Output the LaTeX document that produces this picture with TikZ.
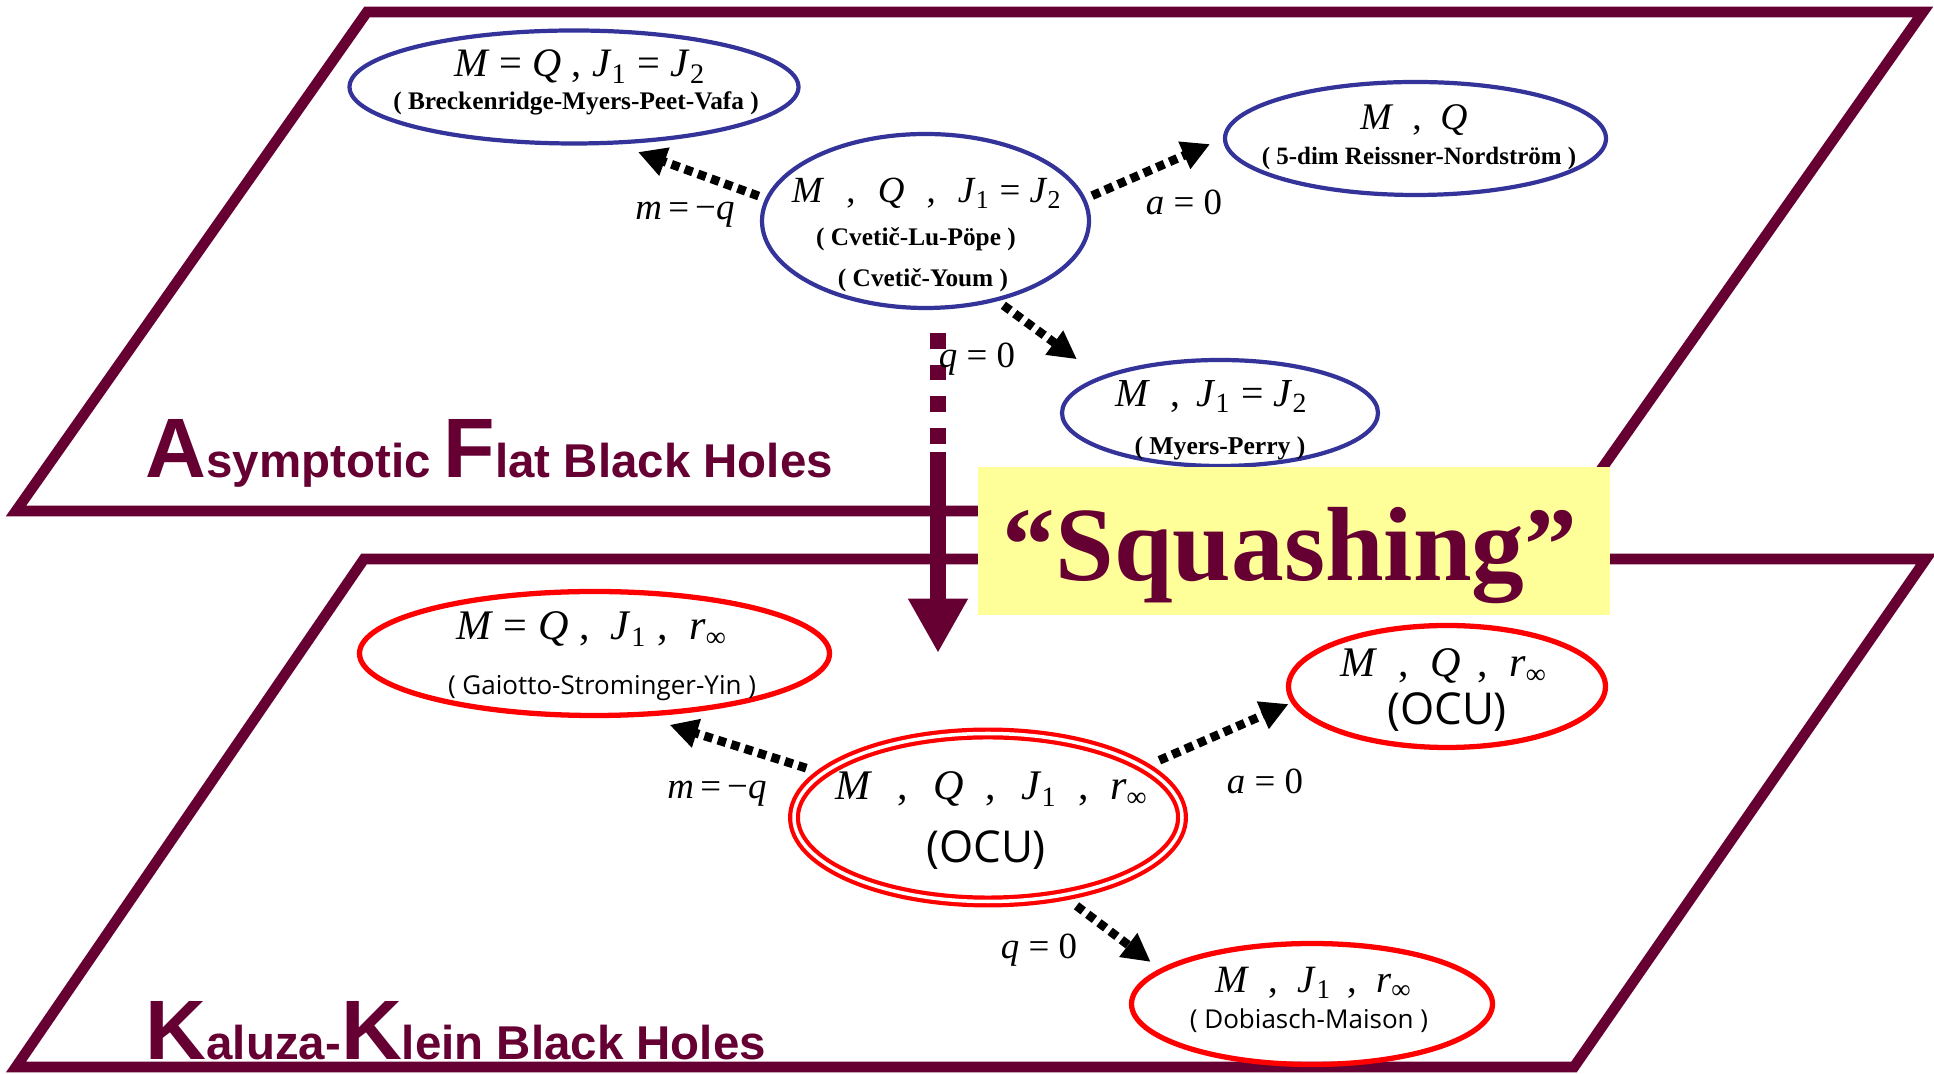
\documentclass[tikz,border=0pt]{standalone}
\usepackage{fontspec}
\setmainfont{Liberation Serif}
\newfontfamily\ocufont{Open Sans}
\newfontfamily\planefont{Liberation Sans}
\usetikzlibrary{arrows.meta,shapes.geometric}
\definecolor{planered}{RGB}{102,0,51}
\definecolor{ovalblue}{RGB}{51,51,153}
\definecolor{squashyellow}{RGB}{255,255,153}

\begin{document}
\begin{tikzpicture}[
  plane/.style={draw=planered,line width=3pt,line join=miter},
  afoval/.style={ellipse,draw=ovalblue,line width=1.2pt,inner sep=0pt},
  kkoval/.style={ellipse,draw=red,line width=1.5pt,inner sep=0pt},
  eqtext/.style={anchor=base,inner sep=0pt},
  limitarrow/.style={line width=2.5pt,dash pattern=on 2.4pt off 1.6pt,-{Triangle[length=8pt,width=8pt]}},
]
\useasboundingbox (0,0) rectangle (19.34,10.74);

% the two planes
\draw[plane] (3.67,10.62) -- (19.23,10.62) -- (15.72,5.63) -- (0.16,5.63) -- cycle;
\draw[plane] (3.64,5.15) -- (19.26,5.15) -- (15.74,0.07) -- (0.16,0.07) -- cycle;
\node[planered,anchor=base west,inner sep=0pt,font=\planefont\bfseries\fontsize{13.5}{15}\selectfont] (af-title) at (1.45,5.96)
  {{\fontsize{24}{26}\selectfont A}symptotic {\fontsize{24}{26}\selectfont F}lat Black Holes};
\node[planered,anchor=base west,inner sep=0pt,font=\planefont\bfseries\fontsize{13.5}{15}\selectfont] (kk-title) at (1.45,0.14)
  {{\fontsize{24}{26}\selectfont K}aluza-{\fontsize{24}{26}\selectfont K}lein Black Holes};

% asymptotically flat solutions
\node[afoval,minimum width=4.49cm,minimum height=1.13cm] (bmpv) at (5.74,9.87) {};
\node[afoval,minimum width=3.27cm,minimum height=1.74cm] (clp) at (9.255,8.53) {};
\node[afoval,minimum width=3.81cm,minimum height=1.13cm] (rn) at (14.155,9.355) {};
\node[afoval,minimum width=3.16cm,minimum height=1.06cm] (mp) at (12.20,6.61) {};
\node[eqtext,font=\fontsize{11.5}{13}\selectfont] (bmpv-eq) at (5.80,9.97)
  {\textit{M} = \textit{Q} ,\ \textit{J}\textsubscript{1} = \textit{J}\textsubscript{2}};
\node[eqtext,font=\bfseries\fontsize{7.2}{9}\selectfont] (bmpv-ref) at (5.76,9.64) {( Breckenridge-Myers-Peet-Vafa )};
\node[eqtext,font=\fontsize{10.5}{12}\selectfont] (clp-eq) at (9.27,8.71)
  {\textit{M}\hspace{0.6em},\hspace{0.6em}\textit{Q}\hspace{0.6em},\hspace{0.6em}\textit{J}\textsubscript{1} = \textit{J}\textsubscript{2}};
\node[eqtext,font=\bfseries\fontsize{7.2}{9}\selectfont] (clp-ref1) at (9.16,8.28) {( Cvetič-Lu-Pöpe )};
\node[eqtext,font=\bfseries\fontsize{7.2}{9}\selectfont] (clp-ref2) at (9.23,7.87) {( Cvetič-Youm )};
\node[eqtext,font=\fontsize{10.7}{12}\selectfont] (rn-eq) at (14.14,9.44) {\textit{M}\hspace{0.5em},\hspace{0.5em}\textit{Q}};
\node[eqtext,font=\bfseries\fontsize{7.1}{9}\selectfont] (rn-ref) at (14.19,9.09) {( 5-dim Reissner-Nordström )};
\node[eqtext,font=\fontsize{11.3}{13}\selectfont] (mp-eq) at (12.12,6.67)
  {\textit{M}\hspace{0.5em},\hspace{0.4em}\textit{J}\textsubscript{1} = \textit{J}\textsubscript{2}};
\node[eqtext,font=\bfseries\fontsize{7.3}{9}\selectfont] (mp-ref) at (12.20,6.19) {( Myers-Perry )};

\draw[limitarrow,shorten <=2pt,shorten >=0.22cm] (clp.172) -- (bmpv.-53);
\draw[limitarrow,shorten <=2pt,shorten >=0.14cm] (clp.8) -- (rn.west);
\draw[limitarrow,shorten <=2pt,shorten >=0.29cm] (clp.-48) -- (mp.163);
\node[eqtext,font=\fontsize{10.5}{12}\selectfont] (af-mq) at (6.85,8.54) {\textit{m}\,=\,−\textit{q}};
\node[eqtext,font=\fontsize{10.5}{12}\selectfont] (af-a) at (11.84,8.59) {\textit{a} = 0};

% Kaluza-Klein solutions
\node[kkoval,minimum width=4.70cm,minimum height=1.24cm] (gsy) at (5.945,4.205) {};
\node[kkoval,double,line width=1.2pt,double distance=1pt,minimum width=3.88cm,minimum height=1.68cm] (ocu) at (9.88,2.565) {};
\node[kkoval,minimum width=3.17cm,minimum height=1.22cm] (ocur) at (14.47,3.875) {};
\node[kkoval,minimum width=3.61cm,minimum height=1.21cm] (dm) at (13.12,0.70) {};
\node[eqtext,font=\fontsize{12}{14}\selectfont] (gsy-eq) at (5.92,4.34)
  {\textit{M} = \textit{Q} ,\ \ \textit{J}\textsubscript{1} ,\ \ \textit{r}\textsubscript{∞}};
\node[eqtext,font=\ocufont\fontsize{7.4}{9}\selectfont] (gsy-ref) at (6.02,3.79) {( Gaiotto-Strominger-Yin )};
\node[eqtext,font=\fontsize{12}{14}\selectfont] (ocu-eq) at (9.92,2.74)
  {\textit{M}\hspace{0.6em},\hspace{0.6em}\textit{Q}\hspace{0.5em},\hspace{0.6em}\textit{J}\textsubscript{1}\hspace{0.5em},\hspace{0.5em}\textit{r}\textsubscript{∞}};
\node[eqtext,font=\ocufont\fontsize{12.5}{14}\selectfont] (ocu-ref) at (9.86,2.11) {(OCU)};
\node[eqtext,font=\fontsize{12}{14}\selectfont] (ocur-eq) at (14.44,3.97)
  {\textit{M}\hspace{0.5em},\hspace{0.5em}\textit{Q}\hspace{0.4em},\hspace{0.5em}\textit{r}\textsubscript{∞}};
\node[eqtext,font=\ocufont\fontsize{12.5}{14}\selectfont] (ocur-ref) at (14.47,3.49) {(OCU)};
\node[eqtext,font=\fontsize{11}{13}\selectfont] (dm-eq) at (13.14,0.81)
  {\textit{M}\hspace{0.5em},\hspace{0.5em}\textit{J}\textsubscript{1}\hspace{0.4em},\hspace{0.5em}\textit{r}\textsubscript{∞}};
\node[eqtext,font=\ocufont\fontsize{7.4}{9}\selectfont] (dm-ref) at (13.09,0.45) {( Dobiasch-Maison )};

\draw[limitarrow,shorten <=0.15cm,shorten >=0.27cm] (ocu.165) -- (gsy.-52);
\draw[limitarrow,shorten <=0.15cm,shorten >=0.03cm] (ocu.18) -- (ocur.186);
\draw[limitarrow,shorten <=0.15cm,shorten >=0.115cm] (ocu.-46.5) -- (dm.167);
\node[eqtext,font=\fontsize{10.5}{12}\selectfont] (kk-mq) at (7.17,2.75) {\textit{m}\,=\,−\textit{q}};
\node[eqtext,font=\fontsize{10.5}{12}\selectfont] (kk-a) at (12.65,2.80) {\textit{a} = 0};
\node[eqtext,font=\fontsize{10.5}{12}\selectfont] (kk-q) at (10.39,1.15) {\textit{q} = 0};

% squashing arrow
\coordinate (sqtop) at (9.38,7.41);
\coordinate (sqmid) at (9.38,6.29);
\coordinate (sqstart) at (9.38,6.22);
\coordinate (sqtip) at (9.38,4.21);
\draw[planered,line width=4.4pt,dash pattern=on 4.5pt off 4.5pt] (sqtop) -- (sqmid);
\draw[planered,line width=4.4pt,-{Triangle[length=15.5pt,width=16pt]}] (sqstart) -- (sqtip);
\node[eqtext,font=\fontsize{10.5}{12}\selectfont] (af-q) at (9.77,7.06) {\textit{q} = 0};
\node[fill=squashyellow,minimum width=6.32cm,minimum height=1.48cm,inner sep=0pt] (squash-box) at (12.94,5.33) {};
\node[eqtext,planered,font=\bfseries\fontsize{30}{32}\selectfont] (squash) at (12.90,4.93) {“Squashing”};
\end{tikzpicture}
\end{document}
